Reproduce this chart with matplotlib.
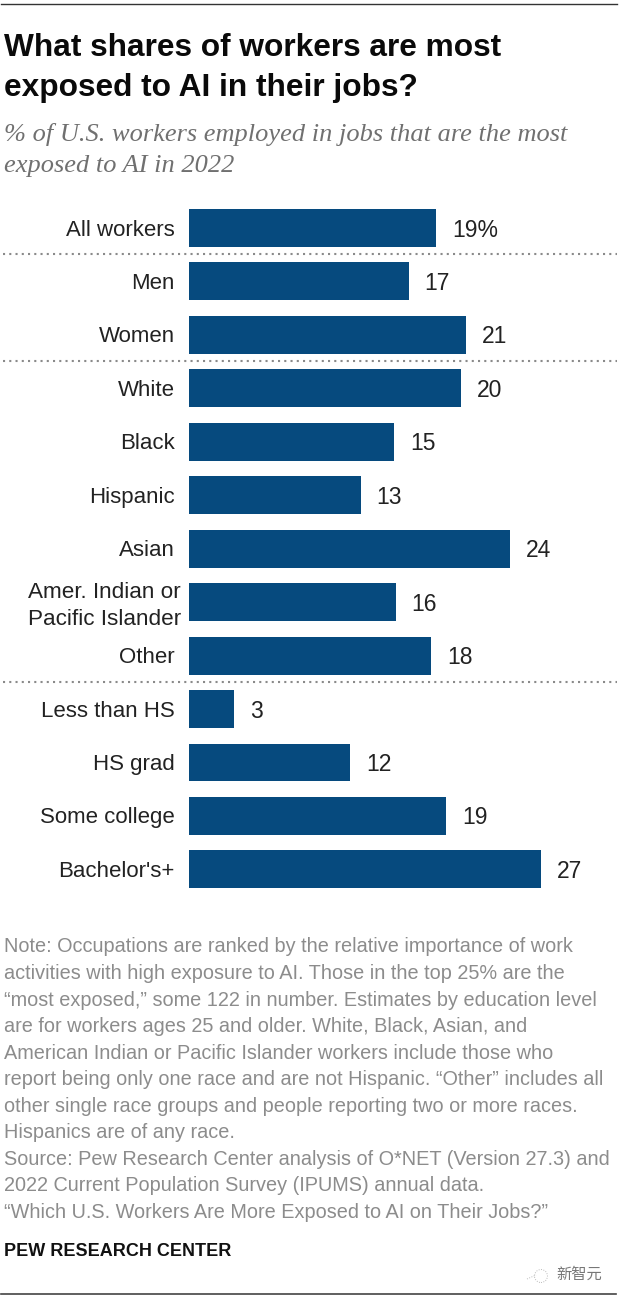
import matplotlib
matplotlib.use("Agg")
import matplotlib.pyplot as plt
from matplotlib.patches import Ellipse

categories = ["All workers", "Men", "Women", "White", "Black", "Hispanic", "Asian",
              "Amer. Indian or\nPacific Islander", "Other", "Less than HS", "HS grad",
              "Some college", "Bachelor's+"]
# bar lengths as drawn in the picture (unrounded shares)
values = [19.0, 16.9, 21.3, 20.9, 15.8, 13.2, 24.7, 15.9, 18.6, 3.5, 12.4, 19.8, 27.1]
value_labels = ["19%", "17", "21", "20", "15", "13", "24", "16", "18", "3", "12", "19", "27"]
title_lines = ["What shares of workers are most", "exposed to AI in their jobs?"]
subtitle_lines = ["% of U.S. workers employed in jobs that are the most", "exposed to AI in 2022"]
note_lines = [
    "Note: Occupations are ranked by the relative importance of work",
    "activities with high exposure to AI. Those in the top 25% are the",
    "“most exposed,” some 122 in number. Estimates by education level",
    "are for workers ages 25 and older. White, Black, Asian, and",
    "American Indian or Pacific Islander workers include those who",
    "report being only one race and are not Hispanic. “Other” includes all",
    "other single race groups and people reporting two or more races.",
    "Hispanics are of any race.",
    "Source: Pew Research Center analysis of O*NET (Version 27.3) and",
    "2022 Current Population Survey (IPUMS) annual data.",
    "“Which U.S. Workers Are More Exposed to AI on Their Jobs?”",
]

W, H = 620, 1300
fig = plt.figure(figsize=(W/100, H/100), dpi=100, facecolor="white")
SANS = "Liberation Sans"
def T(x, y, s, **k):
    k.setdefault("family", SANS)
    k.setdefault("va", "center")
    return fig.text(x/W, 1-y/H, s, **k)

PX = 13.0
STEP = 53.45
ax = fig.add_axes([189/W, 1-(228+12.5*STEP)/H, (W-189)/W, 13*STEP/H])
ax.set_xlim(0, (W-189)/PX)
ax.set_ylim(12.5, -0.5)
ax.axis("off")
y = list(range(len(values)))
ax.barh(y, values, height=0.71, color="#064a7e")
for i, (v, l) in enumerate(zip(values, value_labels)):
    ax.annotate(l, (v, i), xytext=(16, -2), textcoords="offset pixels", va="center",
                ha="left", fontsize=16.5, color="#222222", family=SANS)
    c = categories[i]
    if "\n" in c:
        ax.annotate(c, (0, i), xytext=(-8, -4), textcoords="offset pixels", va="center",
                    ha="right", multialignment="left", fontsize=16.2, color="#222222",
                    family=SANS, annotation_clip=False, linespacing=1.36)
    else:
        ax.annotate(c, (0, i), xytext=(-14, -2), textcoords="offset pixels", va="center",
                    ha="right", fontsize=16, color="#222222", family=SANS,
                    annotation_clip=False)

for yy in (254, 361, 682):
    fig.add_artist(plt.Line2D([3/W, 617/W], [1-yy/H]*2, color="#8a8a8a", lw=1.5, ls=(0, (1, 2))))
fig.add_artist(plt.Line2D([1/W, 617/W], [1-3.5/H]*2, color="#333333", lw=1))
fig.add_artist(plt.Line2D([1/W, 616/W], [1-1294/H]*2, color="#444444", lw=1.2))

for yy, s in zip((46, 86), title_lines):
    T(4, yy+2, s, fontsize=22.8, fontweight="bold", color="#0a0a0a")
for yy, s in zip((133, 165), subtitle_lines):
    T(4, yy+1, s, fontsize=19, style="italic", color="#707070", family="Liberation Serif")

for i, line in enumerate(note_lines):
    T(4, 947+i*26.55, line, fontsize=14.35, color="#8c8c8c")
T(4, 1252, "PEW RESEARCH CENTER", fontsize=13, fontweight="bold", color="#111111")
T(556, 1274, "新智元", fontsize=11, color="#777777", family="Noto Sans CJK SC")
# faint dotted watermark doodle beside the watermark text
fig.add_artist(Ellipse((541/W, 1-1276/H), 13/W, 13/H, transform=fig.transFigure, fill=False,
                       ec="#bbbbbb", lw=0.7, ls=(0, (1, 1.5))))
fig.add_artist(plt.Line2D([527/W, 536/W], [1-1279/H, 1-1275/H], color="#bbbbbb", lw=0.7, ls=(0, (1, 1.5))))

fig.savefig("out.png", dpi=100)
